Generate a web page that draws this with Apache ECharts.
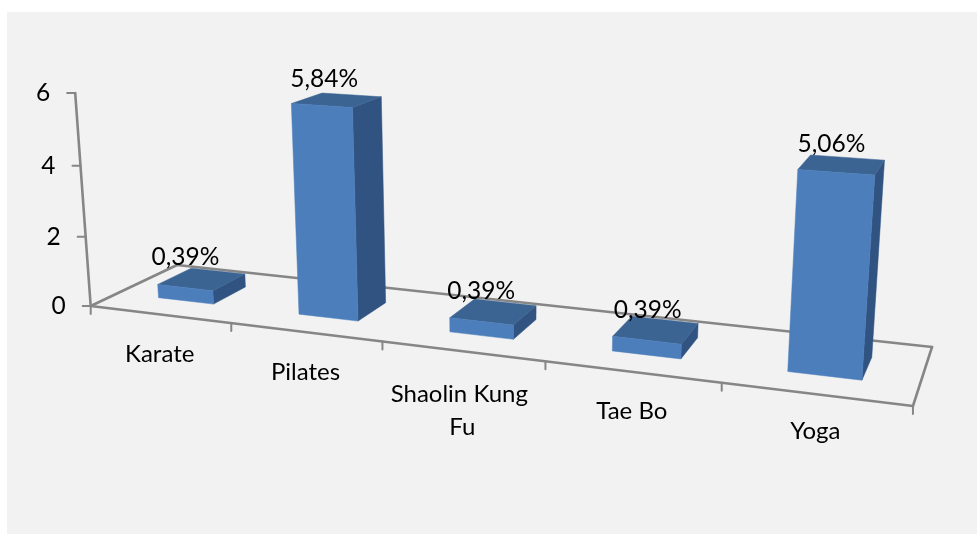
<!DOCTYPE html>
<html><head><meta charset="utf-8">
<style>html,body{margin:0;padding:0;background:#fff;width:977px;height:534px;overflow:hidden}
#c{position:absolute;left:0;top:0;width:977px;height:534px}</style>
<script src="https://cdn.jsdelivr.net/npm/echarts@6/dist/echarts.min.js"></script>
</head><body><div id="c"></div>
<script>
const categories = ['Karate', 'Pilates', 'Shaolin Kung Fu', 'Tae Bo', 'Yoga'];
const percentValues = [0.39, 5.84, 0.39, 0.39, 5.06];
const percentLabels = ['0,39%', '5,84%', '0,39%', '0,39%', '5,06%'];
const valueTicks = [0, 2, 4, 6];

// Perspective camera: turns the flat grid (category across, value up, depth) into the tilted picture.
const C = {a:662.4,b:102.9,c:90.7,d:28.9,e:-16.2,f:306,g:-0.1751,h:0.09354,k:-0.00598,vx:507,vy:6028};
function project(s, t, v) {
  const kv = C.k * v;
  const X = C.a*s + C.b*t + C.c + kv*C.vx;
  const Y = C.d*s + C.e*t + C.f + kv*C.vy;
  const W = C.g*s + C.h*t + 1 + kv;
  return [X/W, Y/W];
}
const FONT = 'Lato';
const AXIS = '#868686';
const FRONT = '#4d7ebc', TOP = '#3c6493', SIDE = '#315381';
const BAR_W = 0.4, T0 = 0.3, T1 = 0.7;
// hand placement of the labels, as in the source chart
const LABEL_SHIFT = [[2,0],[4,4],[1,0],[2,0],[-4,2]];
const CATEGORY_SHIFT = [0,1,4,0,-2];

function toModel(params, api, cat, val) {
  const p = api.coord([cat, val]);
  const r = params.coordSys;
  return [(p[0]-r.x)/r.width, (r.y+r.height-p[1])/r.height*6];
}
function line(a, b, w) {
  return {type:'line', shape:{x1:a[0],y1:a[1],x2:b[0],y2:b[1]}, style:{stroke:AXIS,lineWidth:w||2.6,lineCap:'round'}, silent:true};
}
function poly(pts, fill) {
  return {type:'polygon', shape:{points:pts}, style:{fill:fill, stroke:fill, lineWidth:0.5}};
}
function renderFrame(params, api) {
  const children = [];
  const r = params.coordSys;
  const n = categories.length;
  const m0 = toModel(params, api, 0, 0);
  const band = api.size([1,0])[0]/r.width;
  const sAt = i => m0[0] - band/2 + band*i;
  const FL = project(0,0,0), FR = project(1,0,0), BR = project(1,1,0), BL = project(0,1,0);
  children.push(line(FL,FR), line(FR,BR), line(BR,BL), line(BL,FL));
  for (let i = 0; i <= n; i++) {
    const p = project(sAt(i),0,0);
    children.push(line(p,[p[0],p[1]+8],2));
  }
  valueTicks.forEach(t => {
    const v = toModel(params, api, 0, t)[1];
    const p = project(0,0,v);
    children.push(line(p,[p[0]-8,p[1]],2));
    children.push({type:'text', style:{text:String(t), x:p[0]-25, y:p[1], align:'right', verticalAlign:'middle', font:'24.5px '+FONT, fill:'#000'}});
  });
  const top = project(0,0,6);
  children.push(line(FL,top));
  categories.forEach((c,i) => {
    const p = project(m0[0]+band*i,0,0);
    children.push({type:'text', style:{text:c, x:p[0], y:p[1]+23+CATEGORY_SHIFT[i], width:150, overflow:'break', align:'center', verticalAlign:'top', lineHeight:33, font:'24px '+FONT, fill:'#000'}});
  });
  return {type:'group', children};
}
function renderBar(params, api) {
  const i = api.value(0), val = api.value(1);
  const m = toModel(params, api, i, val);
  const band = api.size([1,0])[0]/params.coordSys.width;
  const s0 = m[0]-band*BAR_W/2, s1 = m[0]+band*BAR_W/2, v = m[1];
  const P = (s,t,h) => project(s,t,h);
  return {type:'group', children:[
    poly([P(s1,T0,0),P(s1,T1,0),P(s1,T1,v),P(s1,T0,v)], SIDE),
    poly([P(s0,T0,v),P(s1,T0,v),P(s1,T1,v),P(s0,T1,v)], TOP),
    poly([P(s0,T0,0),P(s1,T0,0),P(s1,T0,v),P(s0,T0,v)], FRONT)
  ]};
}
function renderLabel(params, api) {
  const i = api.value(0), val = api.value(1);
  const m = toModel(params, api, i, val);
  const p = project(m[0],0.28,m[1]);
  const d = LABEL_SHIFT[i];
  return {type:'text', style:{text:percentLabels[i], x:p[0]+d[0], y:p[1]-31+d[1], align:'center', verticalAlign:'middle', font:'24.5px '+FONT, fill:'#000'}};
}
const barData = categories.map((c,i) => [i, percentValues[i]]);
const chart = echarts.init(document.getElementById('c'), null, {renderer:'canvas', width:977, height:534});
chart.setOption({
  animation:false,
  backgroundColor:'#fff',
  graphic:[{type:'rect', z:-10, shape:{x:7,y:12,width:970,height:522}, style:{fill:'#f2f2f2'}, silent:true}],
  grid:{left:100,right:100,top:50,bottom:50},
  xAxis:{type:'category', data:categories, show:false},
  yAxis:{type:'value', min:0, max:6, interval:2, show:false},
  series:[
    {type:'custom', name:'frame', data:[[0,0]], renderItem:renderFrame, z:1, silent:true},
    {type:'custom', name:'bars', data:barData, renderItem:renderBar, z:2, encode:{x:0,y:1}},
    {type:'custom', name:'labels', data:barData, renderItem:renderLabel, z:3, silent:true}
  ]
});
</script></body></html>
